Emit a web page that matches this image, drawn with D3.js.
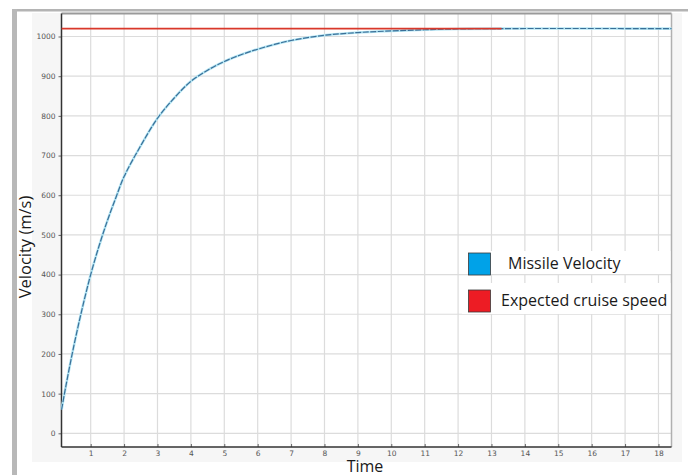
<!DOCTYPE html>
<html>
<head>
<meta charset="utf-8">
<script src="https://cdn.jsdelivr.net/npm/d3@7"></script>
<style>
  body { margin: 0; background: #fff; }
  svg { display: block; }
</style>
</head>
<body>
<div class="chart"></div>
<script>
// values
var missileTime = [0.13, 0.25, 0.5, 0.75, 1, 1.25, 1.5, 1.75, 2, 2.5, 3, 3.5, 4, 4.5, 5, 5.5, 6, 6.5, 7, 8, 9, 10, 11, 12, 13.3, 18.39];
var missileVelocity = [60, 116, 222, 316, 400, 472, 536, 593, 647, 725, 794, 845, 887, 915, 937, 954, 968, 980, 990, 1003, 1010, 1014, 1017, 1019, 1020, 1020];
var cruiseTime = [0.13, 13.3];
var cruiseSpeed = [1020, 1020];
var xTicks = [1, 2, 3, 4, 5, 6, 7, 8, 9, 10, 11, 12, 13, 14, 15, 16, 17, 18];
var yTicks = [0, 100, 200, 300, 400, 500, 600, 700, 800, 900, 1000];
var legendLabels = ["Missile Velocity", "Expected cruise speed"];
var legendColors = ["#00a2e8", "#ed1c24"];

var width = 688, height = 475;
var plot = { left: 61.5, right: 671.5, top: 13.5, bottom: 447 };

var svg = d3.select('.chart').append('svg')
    .attr('width', width)
    .attr('height', height);

// frame bits round the screenshot
svg.append('rect').attr('x', 12).attr('y', 9).attr('width', 676).attr('height', 2.5).attr('fill', '#b4b4b4');
svg.append('rect').attr('x', 12).attr('y', 9).attr('width', 5).attr('height', 466).attr('fill', '#b8b8b8');
svg.append('rect').attr('x', 32).attr('y', 13).attr('width', 650).attr('height', 449).attr('fill', '#f6f6f6');
svg.append('rect')
    .attr('x', plot.left).attr('y', plot.top)
    .attr('width', plot.right - plot.left).attr('height', plot.bottom - plot.top)
    .attr('fill', '#fff');

var x = d3.scaleLinear().domain([0.126, 18.39]).range([plot.left, plot.right]);
var y = d3.scaleLinear().domain([-34.5, 1058]).range([plot.bottom, plot.top]);

// grid
svg.append('g').selectAll('line').data(xTicks).enter().append('line')
    .attr('x1', function (d) { return x(d); }).attr('x2', function (d) { return x(d); })
    .attr('y1', plot.top).attr('y2', plot.bottom)
    .style('stroke', '#dcdcdc').style('stroke-width', 1.2);
svg.append('g').selectAll('line').data(yTicks).enter().append('line')
    .attr('x1', plot.left).attr('x2', plot.right)
    .attr('y1', function (d) { return y(d); }).attr('y2', function (d) { return y(d); })
    .style('stroke', '#dcdcdc').style('stroke-width', 1.2);

// axes
var xAxis = svg.append('g')
    .attr('transform', 'translate(0,' + plot.bottom + ')')
    .call(d3.axisBottom(x).tickValues(xTicks).tickSize(-3).tickPadding(4).tickFormat(d3.format('d')));
var yAxis = svg.append('g')
    .attr('transform', 'translate(' + plot.left + ',0)')
    .call(d3.axisLeft(y).tickValues(yTicks).tickSize(3).tickPadding(3).tickFormat(d3.format('d')));

[xAxis, yAxis].forEach(function (a) {
    a.select('.domain').remove();
    a.selectAll('.tick line').style('stroke', '#666');
    a.selectAll('.tick text')
        .style('font-family', 'DejaVu Sans, sans-serif')
        .style('font-size', '7.5px')
        .style('fill', '#555');
});

// plot borders
svg.append('line').attr('x1', plot.left).attr('x2', plot.right).attr('y1', plot.top).attr('y2', plot.top)
    .style('stroke', '#9a9a9a').style('stroke-width', 2);
svg.append('line').attr('x1', plot.right).attr('x2', plot.right).attr('y1', plot.top).attr('y2', plot.bottom)
    .style('stroke', '#b0b0b0').style('stroke-width', 1.5);
svg.append('line').attr('x1', plot.left).attr('x2', plot.right).attr('y1', plot.bottom).attr('y2', plot.bottom)
    .style('stroke', '#333').style('stroke-width', 1.5);
svg.append('line').attr('x1', plot.left).attr('x2', plot.left).attr('y1', plot.top).attr('y2', plot.bottom)
    .style('stroke', '#333').style('stroke-width', 1.5);

// lines
var missile = missileTime.map(function (t, i) { return [t, missileVelocity[i]]; });
var cruise = cruiseTime.map(function (t, i) { return [t, cruiseSpeed[i]]; });

var line = d3.line()
    .x(function (d) { return x(d[0]); })
    .y(function (d) { return y(d[1]); })
    .curve(d3.curveCatmullRom.alpha(0.5));

svg.append('path').datum(missile).attr('d', line)
    .attr('fill', 'none').style('stroke', '#b5e6f4').style('stroke-width', 2.6);
svg.append('path').datum(missile).attr('d', line)
    .attr('fill', 'none').style('stroke', '#3a6f98').style('stroke-width', 1.2)
    .style('stroke-dasharray', '6,1.5');
svg.append('path').datum(cruise).attr('d', d3.line().x(function (d) { return x(d[0]); }).y(function (d) { return y(d[1]); }))
    .attr('fill', 'none').style('stroke', '#d9382b').style('stroke-width', 1.6);

// legend, pasted over the grid
var legend = svg.append('g');
var rows = [{ box: 253, text: 269, tx: 508, bgY: 251, bgH: 23 }, { box: 290, text: 306, tx: 501, bgY: 283, bgH: 31 }];
rows.forEach(function (r, i) {
    legend.append('rect').attr('x', 462).attr('y', r.bgY).attr('width', 208.5).attr('height', r.bgH).attr('fill', '#fff');
    legend.append('rect').attr('x', 468.5).attr('y', r.box).attr('width', 22).attr('height', 22)
        .attr('fill', legendColors[i]).style('stroke', '#3a3a3a').style('stroke-width', 0.8);
    legend.append('text').attr('x', r.tx).attr('y', r.text)
        .style('font-family', 'Open Sans, sans-serif').style('font-size', '16px').style('fill', '#1a1a1a')
        .text(legendLabels[i]);
});

// axis titles
svg.append('text')
    .attr('transform', 'translate(31,247) rotate(-90)')
    .attr('text-anchor', 'middle')
    .style('font-family', 'Open Sans, sans-serif').style('font-size', '16.5px').style('fill', '#1a1a1a')
    .text('Velocity (m/s)');
svg.append('text')
    .attr('x', 365).attr('y', 472)
    .attr('text-anchor', 'middle')
    .style('font-family', 'Open Sans, sans-serif').style('font-size', '16px').style('fill', '#1a1a1a')
    .text('Time');
</script>
</body>
</html>
